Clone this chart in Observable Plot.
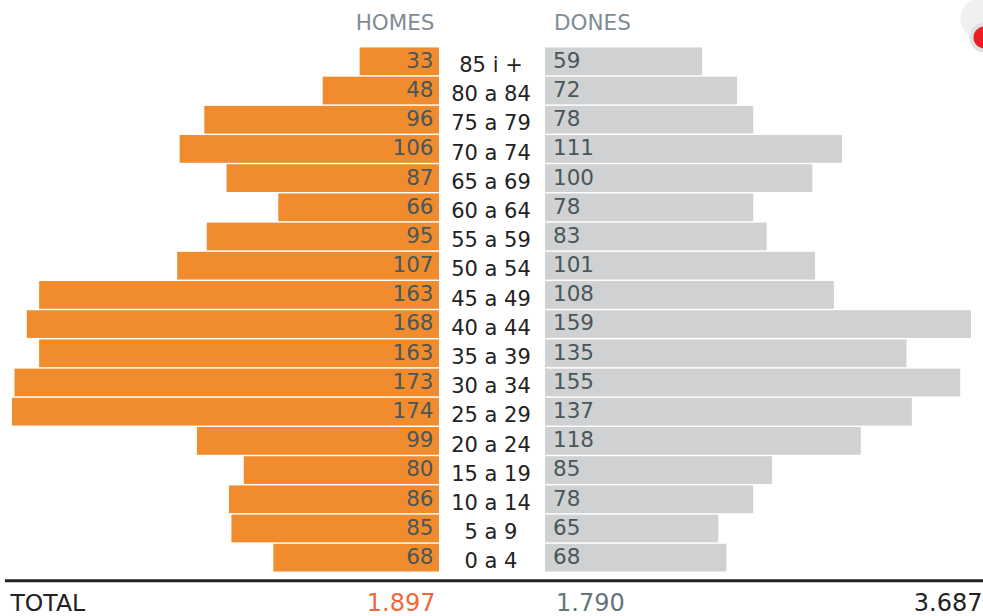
<!DOCTYPE html>
<html>
<head>
<meta charset="utf-8">
<script src="https://cdn.jsdelivr.net/npm/d3@7"></script>
<script src="https://cdn.jsdelivr.net/npm/@observablehq/plot@0.6"></script>
<style>
html,body{margin:0;padding:0;background:#fff;overflow:hidden}
#chart{display:flex;width:983px;height:616px}
#chart svg{flex:none;display:block;max-width:none;overflow:hidden}
</style>
</head>
<body>
<div id="chart"></div>
<script>
const ages = ["85 i +","80 a 84","75 a 79","70 a 74","65 a 69","60 a 64","55 a 59","50 a 54","45 a 49","40 a 44","35 a 39","30 a 34","25 a 29","20 a 24","15 a 19","10 a 14","5 a 9","0 a 4"];
const homes = [33,48,96,106,87,66,95,107,163,168,163,173,174,99,80,86,85,68];
const dones = [59,72,78,111,100,78,83,101,108,159,135,155,137,118,85,78,65,68];
const headers = ["HOMES","DONES"];
const totals = {label:"TOTAL", homes:"1.897", dones:"1.790", all:"3.687"};

const font = "'DejaVu Sans', Verdana, sans-serif";
const H = 616;
const yScale = {type:"band", domain: ages, range: [46, 573], padding: 0.05, round:false, axis: null};
const homesData = ages.map((a,i)=>({age:a, v:homes[i]}));
const donesData = ages.map((a,i)=>({age:a, v:dones[i]}));
const rule = () => Plot.ruleY(["0 a 4"], {y: d=>d, dy: 22.5, stroke:"#222", strokeWidth:3});
const note = (t, o) => Plot.text([t], {text:d=>d, fontFamily:font, ...o});

const left = Plot.plot({
  width:439, height:H, marginLeft:5, marginRight:0, marginTop:0, marginBottom:0,
  style:{fontFamily:font, background:"transparent"},
  x:{domain:[0,174], range:[441,12], axis:null},
  y:yScale,
  marks:[
    Plot.barX(homesData,{x:"v", y:"age", fill:"#f08c2e"}),
    Plot.text(homesData,{x:()=>0, y:"age", text:d=>String(d.v), dx:-8, dy:-1, textAnchor:"end", fill:"#4a5759", fontSize:21.5, fontFamily:font}),
    rule(),
    note(headers[0],{frameAnchor:"top-right", dx:-5, dy:14, fill:"#7f8b94", fontSize:21.5}),
    note(totals.label,{frameAnchor:"bottom-left", dx:5, dy:-6, fill:"#222", fontSize:23.5}),
    note(totals.homes,{frameAnchor:"bottom-right", dx:-4, dy:-6, fill:"#f1683a", fontSize:24})
  ]
});

const centre = Plot.plot({
  width:106, height:H, marginLeft:0, marginRight:0, marginTop:0, marginBottom:0,
  style:{fontFamily:font, background:"transparent"},
  x:{axis:null, domain:[0,1]},
  y:yScale,
  marks:[
    Plot.text(ages,{y:d=>d, text:d=>d, frameAnchor:"middle", dx:-1.5, dy:3.5, fill:"#222", fontSize:21, fontFamily:font}),
    rule()
  ]
});

const right = Plot.plot({
  width:438, height:H, marginLeft:0, marginRight:0, marginTop:0, marginBottom:0,
  style:{fontFamily:font, background:"transparent"},
  x:{domain:[0,159], range:[-1.5,426], axis:null},
  y:yScale,
  marks:[
    Plot.barX(donesData,{x:"v", y:"age", fill:"#cfd1d3"}),
    Plot.text(donesData,{x:()=>0, y:"age", text:d=>String(d.v), dx:9, dy:-1, textAnchor:"start", fill:"#4a5759", fontSize:21.5, fontFamily:font}),
    rule(),
    note(headers[1],{frameAnchor:"top-left", dx:8.5, dy:14, fill:"#7f8b94", fontSize:21.5}),
    note(totals.dones,{frameAnchor:"bottom-left", dx:10.5, dy:-6, fill:"#67747a", fontSize:24}),
    note(totals.all,{frameAnchor:"bottom-right", dx:-1, dy:-6, fill:"#222", fontSize:24}),
    Plot.dot([0],{frameAnchor:"top-right", dx:-3, dy:18, r:20, fill:"#f0f0f0"}),
    Plot.dot([0],{frameAnchor:"top-right", dx:1, dy:37, r:15, fill:"#dfe0e1"}),
    Plot.dot([0],{frameAnchor:"top-right", dx:1, dy:37, r:11, fill:"#ee1c25"})
  ]
});

const host = document.getElementById("chart");
host.append(left, centre, right);
</script>
</body>
</html>
